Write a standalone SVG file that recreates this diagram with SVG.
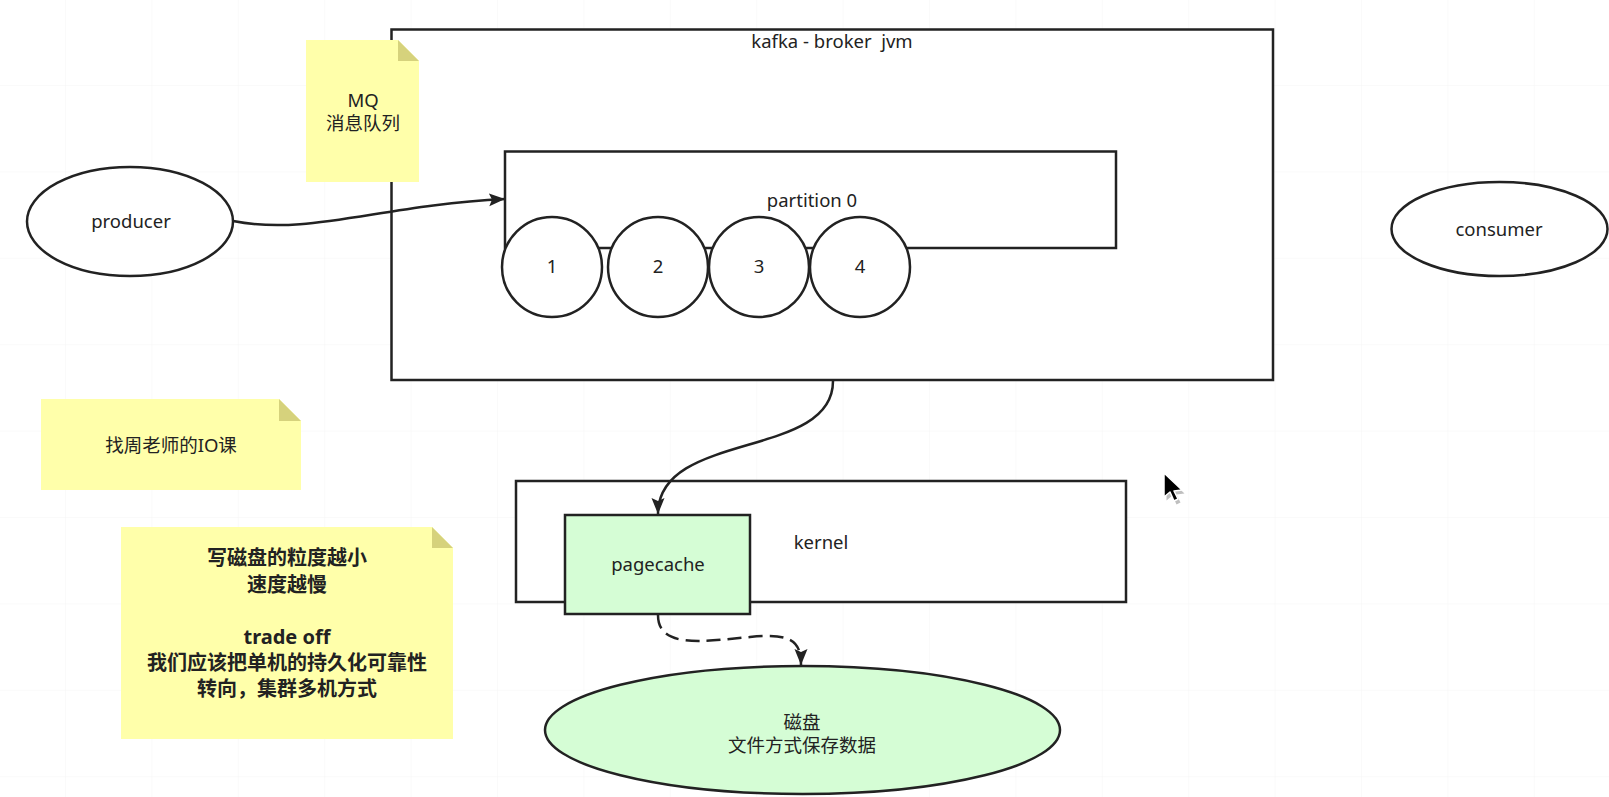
<svg xmlns="http://www.w3.org/2000/svg" width="1609" height="797" viewBox="0 0 1609 797">
<style>
  .shape { stroke: #222; stroke-width: 2.5; }
  .white { fill: #ffffff; }
  .green { fill: #d5fdd5; }
  .note { fill: #ffffaa; }
  .fold { fill: #d6d27c; }
  .edge { fill: none; stroke: #222; stroke-width: 2.5; }
  .dash { stroke-dasharray: 14 7; }
  text { font-family: "Noto Sans", "Noto Sans CJK SC", sans-serif; font-size: 18.5px; fill: #222; text-anchor: middle; }
  .bold { font-weight: bold; font-size: 20px; }
</style>
<defs>
  <pattern id="grid" x="65" y="85" width="86.4" height="86.4" patternUnits="userSpaceOnUse">
    <path d="M0,0 H86.4 M0,0 V86.4" fill="none" stroke="#f5f5f5" stroke-width="1"/>
  </pattern>
  <marker id="arrow" markerUnits="userSpaceOnUse" markerWidth="17" markerHeight="14" refX="16" refY="6.5" orient="auto">
    <path d="M0,0 L16,6.5 L0,13 L3,6.5 Z" fill="#222" stroke="none"/>
  </marker>
</defs>
<rect x="0" y="0" width="1609" height="797" fill="#ffffff"/>
<rect x="0" y="0" width="1609" height="797" fill="url(#grid)"/>

<g id="kafka-broker">
  <rect class="shape white" x="391.5" y="29.5" width="881.5" height="350.5"/>
  <text x="832" y="48" xml:space="preserve">kafka - broker  jvm</text>
</g>

<g id="note-mq">
  <path class="note" d="M306,40 H398 L419,61 V182 H306 Z"/>
  <path class="fold" d="M398,40 L419,61 H398 Z"/>
  <text x="363" y="107">MQ</text>
  <text x="363" y="130">消息队列</text>
</g>

<g id="partition">
  <rect class="shape white" x="505" y="151.5" width="611" height="96.5"/>
  <text x="812" y="207">partition 0</text>
</g>

<g id="msg-1">
  <circle class="shape white" cx="552" cy="267" r="50"/>
  <text x="552" y="273">1</text>
</g>
<g id="msg-2">
  <circle class="shape white" cx="658" cy="267" r="50"/>
  <text x="658" y="273">2</text>
</g>
<g id="msg-3">
  <circle class="shape white" cx="759" cy="267" r="50"/>
  <text x="759" y="273">3</text>
</g>
<g id="msg-4">
  <circle class="shape white" cx="860" cy="267" r="50"/>
  <text x="860" y="273">4</text>
</g>

<g id="producer">
  <ellipse class="shape white" cx="130" cy="221.5" rx="103" ry="54.5"/>
  <text x="131" y="228">producer</text>
</g>

<g id="consumer">
  <ellipse class="shape white" cx="1499.5" cy="229" rx="108" ry="47"/>
  <text x="1499" y="236">consumer</text>
</g>

<g id="note-io">
  <path class="note" d="M41,399 H279 L301,421 V490 H41 Z"/>
  <path class="fold" d="M279,399 L301,421 H279 Z"/>
  <text x="171" y="452">找周老师的IO课</text>
</g>

<g id="note-tradeoff">
  <path class="note" d="M121,527 H432 L453,548 V739 H121 Z"/>
  <path class="fold" d="M432,527 L453,548 H432 Z"/>
  <text class="bold" x="287" y="565">写磁盘的粒度越小</text>
  <text class="bold" x="287" y="592">速度越慢</text>
  <text class="bold" x="287" y="644">trade off</text>
  <text class="bold" x="287" y="670">我们应该把单机的持久化可靠性</text>
  <text class="bold" x="287" y="696">转向，集群多机方式</text>
</g>

<g id="kernel">
  <rect class="shape white" x="516" y="481" width="610" height="121"/>
  <text x="821" y="549">kernel</text>
</g>

<g id="pagecache">
  <rect class="shape green" x="565" y="515" width="185" height="99"/>
  <text x="658" y="571">pagecache</text>
</g>

<g id="disk">
  <ellipse class="shape green" cx="802.5" cy="730" rx="257.5" ry="64"/>
  <text x="802" y="729">磁盘</text>
  <text x="802" y="752">文件方式保存数据</text>
</g>

<g id="connectors">
  <path class="edge" d="M233,221 C310,236 380,205 505,199" marker-end="url(#arrow)"/>
  <path class="edge" d="M833,381 C833,460 658,430 658,514" marker-end="url(#arrow)"/>
  <path class="edge dash" d="M658,615 C658,648 700,642 750,637 C790,633 801,640 801,665" marker-end="url(#arrow)"/>
</g>

<g id="cursor" transform="translate(1164,473)">
  <path d="M1,2 L1,26 L7,21 L11,30 L15,28 L11,20 L19,19 Z" fill="#000" opacity="0.25" transform="translate(1.5,1.5)"/>
  <path d="M0,0 L0,24 L6,19 L10,28 L14,26 L10,18 L18,17 Z" fill="#000" stroke="#fff" stroke-width="1.5" stroke-linejoin="round"/>
</g>
</svg>
